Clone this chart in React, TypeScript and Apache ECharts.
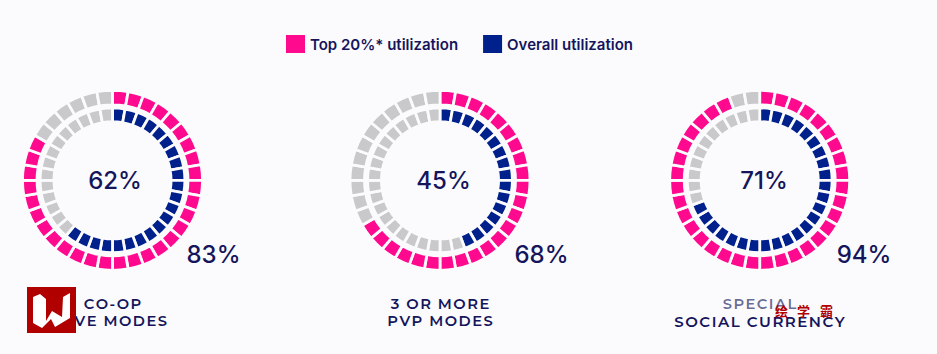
import React, { useEffect, useRef } from "react";
import * as echarts from "echarts";

const categories = ["CO-OP\nLIVE MODES", "3 OR MORE\nPVP MODES", "SPECIAL\nSOCIAL CURRENCY"];
const seriesNames = ["Top 20%* utilization", "Overall utilization"];
const topPercent = [83, 68, 94];
const overallPercent = [62, 45, 71];
const segmentsPerRing = 36;
const topFilled = [30, 24, 34];
const overallFilled = [22, 16, 25];
const stampChars = ["绘", "学", "霸"];

const BG = "#fbfbfd";
const PINK = "#ff0a8e";
const BLUE = "#00218c";
const GREY = "#c9c9cb";
const INK = "#15155c";
const RED = "#b00000";

const centersX = [112.5, 440, 759.7];
const centerY = 180.3;
const bigLabelX = [213.5, 541.5, 864];
const midLabelX = [115, 443.5, 764];
const stampX = [781.5, 803.5, 826.5];

function ring(cx: number, filled: number, name: string, color: string, r0: number, r1: number) {
  const data: any[] = [];
  for (let i = 0; i < segmentsPerRing; i++) {
    const on = i < filled;
    data.push({
      value: 1,
      name: on ? name : "rest",
      itemStyle: { color: on ? color : GREY },
    });
  }
  return {
    type: "pie",
    silent: true,
    center: [cx, centerY],
    radius: [r0, r1],
    startAngle: 90,
    clockwise: true,
    label: { show: false },
    labelLine: { show: false },
    itemStyle: { borderColor: BG, borderWidth: 2.8 },
    data,
  };
}

export default function App() {
  const ref = useRef<HTMLDivElement>(null);
  useEffect(() => {
    document.body.style.margin = "0";
    const chart = echarts.init(ref.current!, undefined, { renderer: "svg" });
    const text = (x: number, y: number, s: string, size: number, extra: any = {}) => ({
      type: "text",
      x,
      y,
      z: 10,
      style: {
        text: s,
        fill: INK,
        font: `500 ${size}px Inter, sans-serif`,
        textAlign: "center",
        textVerticalAlign: "middle",
        ...extra,
      },
    });
    const graphics: any[] = [];
    categories.forEach((c, i) => {
      graphics.push(text(midLabelX[i], 180, `${overallPercent[i]}%`, 24));
      graphics.push(text(bigLabelX[i], 254, `${topPercent[i]}%`, 24));
      c.split("\n").forEach((l, j) => {
        const node: any = text(i === 2 ? 759.5 : centersX[i], 303.5 + j * 17.5, l, 14, {
          font: `600 ${l.length > 12 ? 15 : 14.7}px Montserrat, "Open Sans", Lato, sans-serif`,
          text: l.split("").join("\u200a"),
          opacity: l === "SPECIAL" ? 0.65 : 1,
        });
        graphics.push(node);
      });
    });
    graphics.push({ type: "rect", z: 20, shape: { x: 27, y: 287, width: 49, height: 46 }, style: { fill: RED } });
    graphics.push({
      type: "polygon",
      z: 21,
      shape: {
        points: [[33, 297], [40, 294], [46, 299], [46, 321], [52, 311], [62, 317], [63, 297], [70, 293], [70, 318], [55, 327], [51, 319], [42, 328], [33, 323]],
      },
      style: { fill: "#fff" },
    });
    stampChars.forEach((ch, i) => {
      graphics.push({
        type: "text",
        z: 22,
        x: stampX[i],
        y: 310,
        style: {
          text: ch,
          fill: RED,
          font: `700 13px "Noto Sans CJK SC", sans-serif`,
          textAlign: "center",
          textVerticalAlign: "middle",
        },
      });
    });
    chart.setOption({
      animation: false,
      backgroundColor: BG,
      legend: {
        data: seriesNames,
        left: 281,
        top: 30,
        icon: "rect",
        itemWidth: 19,
        itemHeight: 18,
        itemGap: 25,
        selectedMode: false,
        itemStyle: { borderWidth: 0 },
        textStyle: { color: INK, fontFamily: "Inter, sans-serif", fontWeight: 600, fontSize: 15 },
      },
      series: categories.flatMap((_, i) => [
        ring(centersX[i], topFilled[i], seriesNames[0], PINK, 75.5, 90),
        ring(centersX[i], overallFilled[i], seriesNames[1], BLUE, 58.6, 72.4),
      ]),
      graphic: graphics,
    });
    return () => chart.dispose();
  }, []);
  return <div ref={ref} style={{ width: 937, height: 354 }} />;
}
